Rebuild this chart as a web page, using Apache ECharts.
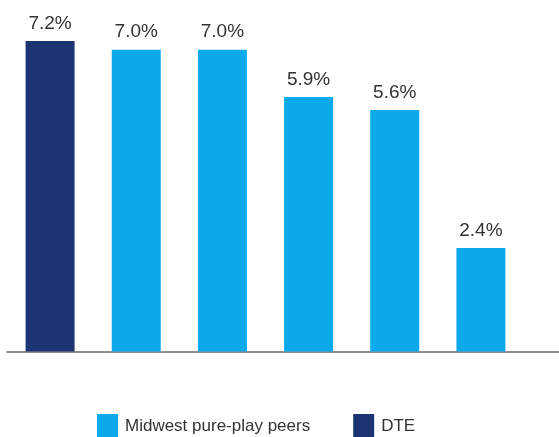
<!DOCTYPE html>
<html>
<head>
<meta charset="utf-8">
<style>
  html, body { margin: 0; padding: 0; background: #fff; }
  #chart { width: 559px; height: 437px; }
</style>
<script src="https://cdn.jsdelivr.net/npm/echarts@6/dist/echarts.min.js"></script>
</head>
<body>
<div id="chart"></div>
<script>
// Bar categories (unlabelled companies) and their values in percent
const categories = ['DTE', 'Peer A', 'Peer B', 'Peer C', 'Peer D', 'Peer E'];
const dteValues = [7.2, null, null, null, null, null];
const peerValues = [null, 7.0, 7.0, 5.9, 5.6, 2.4];
const seriesNames = ['Midwest pure-play peers', 'DTE'];

const NAVY = '#1d3473';
const SKY = '#0daaeb';

const labelStyle = {
  show: true,
  position: 'top',
  distance: 8,
  fontFamily: 'Liberation Sans, Arial, sans-serif',
  fontSize: 19,
  color: '#333',
  formatter: p => p.value.toFixed(1) + '%'
};

const chart = echarts.init(document.getElementById('chart'));
chart.setOption({
  animation: false,
  grid: [
    { left: 7, width: 517, top: 41, height: 310.5 },
    { left: 7, right: 0, top: 41, height: 310.5 }
  ],
  legend: {
    data: seriesNames,
    left: 97,
    top: 414,
    padding: 0,
    itemWidth: 21,
    itemHeight: 24,
    itemGap: 43,
    icon: 'rect',
    textStyle: {
      fontFamily: 'Liberation Sans, Arial, sans-serif',
      fontSize: 17,
      color: '#333',
      padding: [0, 0, 0, 2]
    }
  },
  xAxis: [
    {
      type: 'category',
      data: categories,
      gridIndex: 0,
      axisLine: { show: false },
      axisTick: { show: false },
      axisLabel: { show: false }
    },
    {
      // full-width baseline
      type: 'value',
      gridIndex: 1,
      min: 0,
      max: 1,
      axisLine: { show: true, lineStyle: { color: '#6b6b6b', width: 1.5 } },
      axisTick: { show: false },
      axisLabel: { show: false },
      splitLine: { show: false }
    }
  ],
  yAxis: [
    {
      type: 'value',
      gridIndex: 0,
      min: 0,
      max: 7.2,
      show: false
    },
    {
      type: 'value',
      gridIndex: 1,
      min: 0,
      max: 1,
      show: false
    }
  ],
  series: [
    {
      name: seriesNames[0],
      type: 'bar',
      data: peerValues,
      barWidth: 49,
      barGap: '-100%',
      itemStyle: { color: SKY },
      label: labelStyle
    },
    {
      name: seriesNames[1],
      type: 'bar',
      data: dteValues,
      barWidth: 49,
      barGap: '-100%',
      itemStyle: { color: NAVY },
      label: labelStyle
    }
  ]
});
</script>
</body>
</html>
